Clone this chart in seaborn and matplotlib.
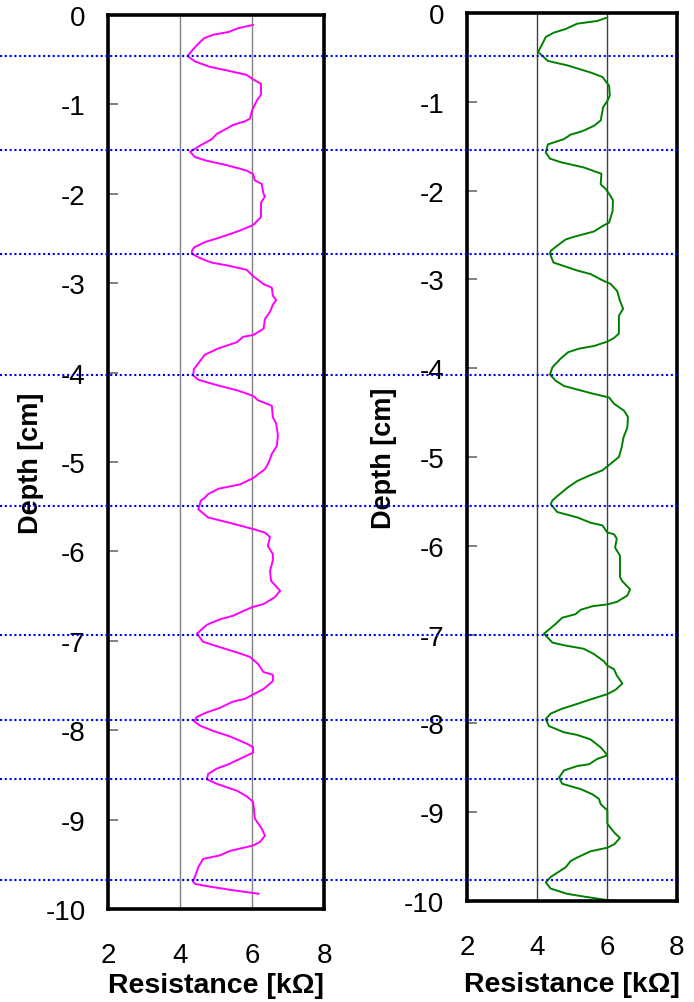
import numpy as np
import pandas as pd
import matplotlib
matplotlib.use("Agg")
import matplotlib.pyplot as plt
import matplotlib.transforms as mtransforms
from matplotlib.lines import Line2D
import seaborn as sns

# ---------------- data ----------------
left_depth = [-0.11, -0.15, -0.19, -0.22, -0.26, -0.32, -0.40, -0.46, -0.52, -0.58,
              -0.62, -0.67, -0.72, -0.77, -0.89, -0.96, -1.07, -1.16, -1.19, -1.23,
              -1.27, -1.33, -1.39, -1.46, -1.53, -1.59, -1.63, -1.68, -1.74, -1.78,
              -1.85, -1.89, -2.00, -2.03, -2.10, -2.26, -2.35, -2.41, -2.45, -2.50,
              -2.54, -2.60, -2.64, -2.67, -2.72, -2.77, -2.80, -2.85, -2.92, -3.01,
              -3.05, -3.14, -3.19, -3.24, -3.32, -3.40, -3.51, -3.58, -3.60, -3.66,
              -3.73, -3.80, -3.87, -3.96, -4.03, -4.08, -4.14, -4.20, -4.26, -4.31,
              -4.37, -4.50, -4.57, -4.70, -4.82, -4.91, -5.00, -5.08, -5.18, -5.25,
              -5.30, -5.36, -5.40, -5.43, -5.53, -5.62, -5.69, -5.75, -5.79, -5.84,
              -5.94, -6.03, -6.10, -6.22, -6.33, -6.44, -6.51, -6.59, -6.62, -6.66,
              -6.72, -6.76, -6.82, -6.92, -7.01, -7.06, -7.13, -7.18, -7.26, -7.35,
              -7.38, -7.45, -7.54, -7.60, -7.65, -7.68, -7.75, -7.80, -7.85, -7.90,
              -7.95, -8.01, -8.07, -8.15, -8.19, -8.25, -8.32, -8.38, -8.43, -8.49,
              -8.55, -8.60, -8.68, -8.74, -8.80, -8.99, -9.10, -9.18, -9.25, -9.29,
              -9.35, -9.40, -9.44, -9.53, -9.61, -9.69, -9.72, -9.75, -9.79, -9.83]
left_res = [6.03, 5.60, 5.35, 4.93, 4.67, 4.51, 4.33, 4.21, 4.42, 4.83,
            5.30, 5.85, 6.03, 6.25, 6.25, 6.13, 6.00, 5.94, 5.80, 5.47,
            5.30, 5.02, 4.88, 4.56, 4.28, 4.42, 4.74, 5.30, 5.85, 6.03,
            6.08, 6.27, 6.32, 6.36, 6.25, 6.25, 6.03, 5.67, 5.39, 5.02,
            4.69, 4.39, 4.33, 4.33, 4.56, 4.88, 5.30, 5.85, 6.03, 6.32,
            6.55, 6.58, 6.67, 6.58, 6.50, 6.36, 6.32, 6.03, 5.75, 5.58,
            5.06, 4.69, 4.56, 4.39, 4.36, 4.51, 5.02, 5.60, 6.03, 6.17,
            6.55, 6.58, 6.67, 6.72, 6.69, 6.55, 6.47, 6.36, 6.03, 5.67,
            5.06, 4.78, 4.69, 4.58, 4.51, 4.78, 5.47, 6.03, 6.36, 6.50,
            6.44, 6.58, 6.58, 6.50, 6.53, 6.78, 6.64, 6.32, 6.03, 5.80,
            5.47, 5.11, 4.75, 4.47, 4.64, 5.02, 5.58, 5.94, 6.17, 6.32,
            6.58, 6.58, 6.32, 6.03, 5.80, 5.47, 5.11, 4.75, 4.47, 4.39,
            4.56, 4.93, 5.39, 5.85, 6.03, 6.03, 5.67, 5.35, 5.02, 4.78,
            4.75, 5.02, 5.60, 5.85, 6.03, 6.08, 6.27, 6.36, 6.22, 6.03,
            5.39, 5.11, 4.64, 4.51, 4.44, 4.36, 4.42, 4.83, 5.47, 6.19]

right_depth = [-0.05, -0.09, -0.12, -0.18, -0.22, -0.27, -0.35, -0.44, -0.48, -0.54,
               -0.59, -0.67, -0.72, -0.82, -0.93, -0.99, -1.06, -1.21, -1.27, -1.33,
               -1.37, -1.42, -1.48, -1.57, -1.64, -1.68, -1.74, -1.81, -1.93, -1.98,
               -2.06, -2.11, -2.23, -2.36, -2.40, -2.46, -2.52, -2.55, -2.62, -2.68,
               -2.71, -2.81, -2.85, -2.90, -2.94, -3.01, -3.05, -3.13, -3.24, -3.33,
               -3.41, -3.61, -3.66, -3.70, -3.75, -3.78, -3.82, -3.89, -3.99, -4.07,
               -4.14, -4.20, -4.28, -4.33, -4.40, -4.48, -4.55, -4.67, -4.78, -4.89,
               -5.00, -5.12, -5.15, -5.21, -5.27, -5.34, -5.44, -5.49, -5.53, -5.62,
               -5.68, -5.74, -5.77, -5.85, -5.87, -5.92, -6.02, -6.11, -6.35, -6.40,
               -6.49, -6.56, -6.63, -6.66, -6.68, -6.72, -6.77, -6.81, -6.88, -6.99,
               -7.09, -7.12, -7.16, -7.22, -7.30, -7.35, -7.39, -7.46, -7.55, -7.62,
               -7.67, -7.73, -7.78, -7.84, -7.89, -7.95, -8.03, -8.10, -8.13, -8.18,
               -8.27, -8.31, -8.36, -8.40, -8.46, -8.48, -8.53, -8.61, -8.68, -8.74,
               -8.80, -8.85, -8.91, -8.98, -9.13, -9.23, -9.29, -9.36, -9.40, -9.44,
               -9.51, -9.55, -9.62, -9.73, -9.79, -9.86, -9.92, -9.95, -9.99, -10.0]
right_res = [6.01, 5.72, 5.15, 4.82, 4.49, 4.25, 4.15, 4.03, 4.15, 4.31,
             4.87, 5.53, 5.87, 6.06, 6.08, 6.01, 5.89, 5.82, 5.63, 5.30,
             4.96, 4.77, 4.31, 4.25, 4.37, 4.68, 5.34, 5.84, 5.82, 5.96,
             6.10, 6.17, 6.16, 6.06, 5.87, 5.63, 5.06, 4.82, 4.58, 4.39,
             4.37, 4.47, 4.77, 5.15, 5.53, 5.87, 6.10, 6.29, 6.37, 6.46,
             6.34, 6.34, 6.20, 6.01, 5.63, 5.20, 4.89, 4.68, 4.44, 4.37,
             4.53, 4.77, 5.53, 6.06, 6.20, 6.49, 6.60, 6.58, 6.47, 6.42,
             6.34, 5.96, 5.87, 5.49, 5.15, 4.89, 4.58, 4.44, 4.39, 4.58,
             5.15, 5.53, 5.87, 6.01, 6.20, 6.28, 6.23, 6.37, 6.37, 6.44,
             6.66, 6.58, 6.29, 6.01, 5.59, 5.25, 5.10, 4.72, 4.53, 4.20,
             4.44, 4.77, 5.34, 5.63, 5.91, 6.01, 6.20, 6.28, 6.44, 6.25,
             6.01, 5.53, 5.15, 4.68, 4.39, 4.25, 4.34, 4.77, 5.15, 5.53,
             5.82, 5.91, 6.01, 5.72, 5.49, 5.15, 4.77, 4.63, 4.72, 5.25,
             5.59, 5.77, 5.82, 6.01, 6.01, 6.21, 6.37, 6.21, 6.01, 5.53,
             5.15, 4.96, 4.82, 4.39, 4.25, 4.39, 4.87, 5.34, 6.01, 6.42]

# layer boundaries (depth, left-panel scale), drawn across the whole figure
boundary_depths = [-0.46, -1.51, -2.67, -4.03, -5.49, -6.94, -7.89, -8.55, -9.68]

y_ticks = [0, -1, -2, -3, -4, -5, -6, -7, -8, -9, -10]
y_ticklabels = ["0", "-1", "-2", "-3", "-4", "-5", "-6", "-7", "-8", "-9", "-10"]
x_ticks = [2, 4, 6, 8]
x_ticklabels = ["2", "4", "6", "8"]
grid_x = [4, 6]

x_label = "Resistance [k\u03a9]"
y_label = "Depth [cm]"

# ---------------- style ----------------
sns.set_theme(style="white")
plt.rcParams["font.family"] = ["Liberation Sans", "DejaVu Sans"]
plt.rcParams["axes.unicode_minus"] = False
plt.rcParams["text.color"] = "black"
plt.rcParams["axes.labelcolor"] = "black"
plt.rcParams["xtick.labelcolor"] = "black"
plt.rcParams["ytick.labelcolor"] = "black"

fig = plt.figure(figsize=(6.94, 10.03), dpi=100)
W, H = 694, 1003
ax1 = fig.add_axes([108 / W, 1 - 910 / H, (324 - 108) / W, (910 - 16) / H])
ax2 = fig.add_axes([467 / W, 1 - 902 / H, (677 - 467) / W, (902 - 14) / H])

df_left = pd.DataFrame({"depth": left_depth, "res": left_res})
df_right = pd.DataFrame({"depth": right_depth, "res": right_res})

panels = [
    (ax1, df_left, "#FF00FF", "#808080", 16, 3, 1),
    (ax2, df_right, "#008000", "#404040", 16.5, 8, 5),
]

for ax, df, col, gcol, ypad, xlabpad, ylabpad in panels:
    for gx in grid_x:
        ax.axvline(gx, color=gcol, lw=1.0, zorder=1)
    sns.lineplot(data=df, x="res", y="depth", sort=False, estimator=None,
                 color=col, lw=1.4, ax=ax, zorder=3)
    ax.set_xlim(2, 8)
    ax.set_ylim(-10, 0)
    ax.set_xticks(x_ticks)
    ax.set_xticklabels(x_ticklabels)
    ax.set_yticks(y_ticks)
    ax.set_yticklabels(y_ticklabels)
    ax.tick_params(axis="y", direction="in", length=7, width=1.4, color="#808080",
                   pad=ypad, labelsize=20, left=True, labelcolor="black")
    ax.tick_params(axis="x", length=0, pad=24, labelsize=20, bottom=True,
                   labelcolor="black")
    for s in ax.spines.values():
        s.set_visible(True)
        s.set_color("black")
        s.set_linewidth(2.6)
        s.set_zorder(4)
    ax.set_xlabel(x_label, fontsize=20.5, fontweight="bold", labelpad=xlabpad,
                  color="black")
    ax.set_ylabel(y_label, fontsize=19.5, fontweight="bold", labelpad=ylabpad,
                  color="black")
    ax.grid(False)
    ax.set_facecolor("white")

# figure-wide dotted boundary lines
trans = mtransforms.blended_transform_factory(fig.transFigure, ax1.transData)
for d in boundary_depths:
    ln = Line2D([0, 677 / W], [d, d], transform=trans, color="#0000FF",
                lw=1.5, linestyle=(0, (1, 1.3)), zorder=10)
    fig.add_artist(ln)

fig.savefig("out.png", dpi=100)
